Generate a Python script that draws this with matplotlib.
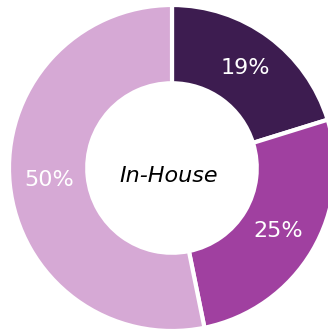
import matplotlib.pyplot as plt

shares = [19, 25, 50]
share_labels = ["19%", "25%", "50%"]
colors = ["#3d1c50", "#a040a0", "#d6a9d5"]
center_label = "In-House"

fig = plt.figure(figsize=(3.28, 3.34), dpi=100)

# pie centre at (172, 168) px, outer radius 163 px
cx, cy, r = 172, 168, 163
W, H = 328, 334
ax = fig.add_axes([(cx - r) / W, (H - cy - r) / H, 2 * r / W, 2 * r / H])

wedges, texts = ax.pie(
    shares,
    labels=share_labels,
    colors=colors,
    startangle=90,
    counterclock=False,
    labeldistance=0.76,
    radius=1,
    wedgeprops=dict(width=0.48, edgecolor="white", linewidth=3),
    textprops=dict(color="white", fontsize=16, ha="center", va="center"),
)
for t in texts:
    t.set_horizontalalignment("center")
    t.set_verticalalignment("center")

ax.text(-0.02, -0.05, center_label, ha="center", va="center",
        fontsize=16, style="italic", color="black")

ax.set_xlim(-1, 1)
ax.set_ylim(-1, 1)
ax.set_aspect("auto")

fig.savefig("out.png", dpi=100)
